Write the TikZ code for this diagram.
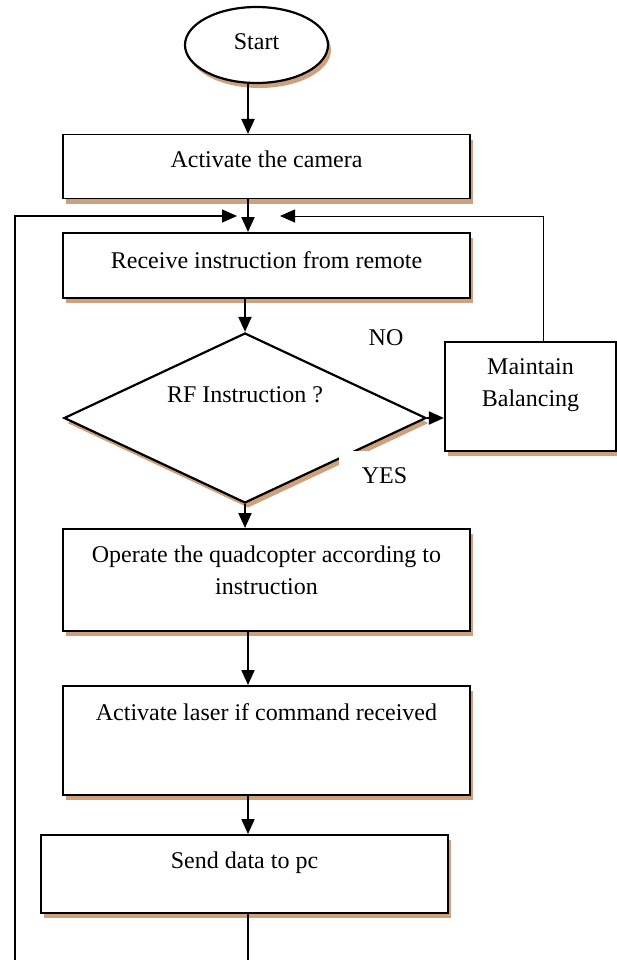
\documentclass[tikz,border=0pt]{standalone}
\usepackage{fontspec}
\setmainfont{Liberation Serif}
\usetikzlibrary{shapes.geometric, arrows.meta, positioning, shadows}
\definecolor{shadowtan}{RGB}{207,160,126}

\begin{document}
\begin{tikzpicture}[
    x=1pt, y=-1pt,
    font=\fontsize{24}{31.5}\selectfont,
    boxshadow/.style={drop shadow={shadow xshift=3pt, shadow yshift=-5pt, fill=shadowtan, opacity=1}},
    process/.style={rectangle, draw, line width=2.2pt, fill=white, boxshadow, minimum width=407pt, inner ysep=0pt, anchor=north, align=center},
    startstop/.style={ellipse, draw, line width=2.2pt, fill=white, boxshadow, minimum width=143pt, minimum height=76pt, inner sep=0pt},
    decision/.style={diamond, draw, line width=2.2pt, fill=white, boxshadow, minimum width=362pt, minimum height=170pt, inner sep=0pt, shape aspect=2},
    arrowline/.style={-{Triangle[width=13pt,length=15pt]}, line width=2pt}
]
\useasboundingbox (0,0) rectangle (617,960);

\node[startstop, text height=17pt, text depth=7pt] (start) at (256.5,45) {Start};
\node[process, line width=1.2pt, text height=33pt, text depth=31pt] (camera) at (266.5,134) {Activate the camera};
\node[process, text height=35pt, text depth=30pt] (receive) at (266.5,232) {Receive instruction from remote};
\node[decision, text height=17pt, text depth=49pt] (rf) at (245,418) {RF Instruction ?};
\node[process, minimum width=171pt, text height=64pt, text depth=45pt] (balance) at (530.5,341) {Maintain\\Balancing};
\node[process, text height=65pt, text depth=37pt] (operate) at (266.5,528) {Operate the quadcopter according to\\instruction};
\node[process, text height=34pt, text depth=75pt] (laser) at (266.5,685) {Activate laser if command received};
\node[process, text height=33pt, text depth=45pt] (send) at (244.5,834) {Send data to pc};

\node[anchor=base] (no) at (386,345) {NO};
\node[anchor=base, fill=white, inner xsep=23pt, inner ysep=15pt, text height=17pt, text depth=5pt] (yes) at (384.5,483) {YES};

\coordinate (spine) at (248,0);
\coordinate (loopL) at (15,216);
\coordinate (tipL) at (237,216);
\coordinate (loopR) at (543,216);
\coordinate (tipR) at (280,216);
\coordinate (endL) at (15,960);
\coordinate (endS) at (248,960);

\draw[arrowline] (start.south -| spine) -- (camera.north -| spine);
\draw[arrowline] (camera.south -| spine) -- (receive.north -| spine);
\draw[arrowline] (receive.south -| rf.north) -- (rf.north);
\draw[arrowline] (rf.east) -- (balance.west |- rf.east);
\draw[arrowline] (rf.south) -- (operate.north -| rf.south);
\draw[arrowline] (operate.south -| spine) -- (laser.north -| spine);
\draw[arrowline] (laser.south -| spine) -- (send.north -| spine);
\draw[line width=1.2pt] (send.south -| spine) -- (endS);

% loops back to the receiver
\draw[arrowline, line width=1.6pt] (endL) -- (loopL) -- (tipL);
\draw[arrowline, line width=1pt] (balance.north -| loopR) -- (loopR) -- (tipR);
\end{tikzpicture}
\end{document}
